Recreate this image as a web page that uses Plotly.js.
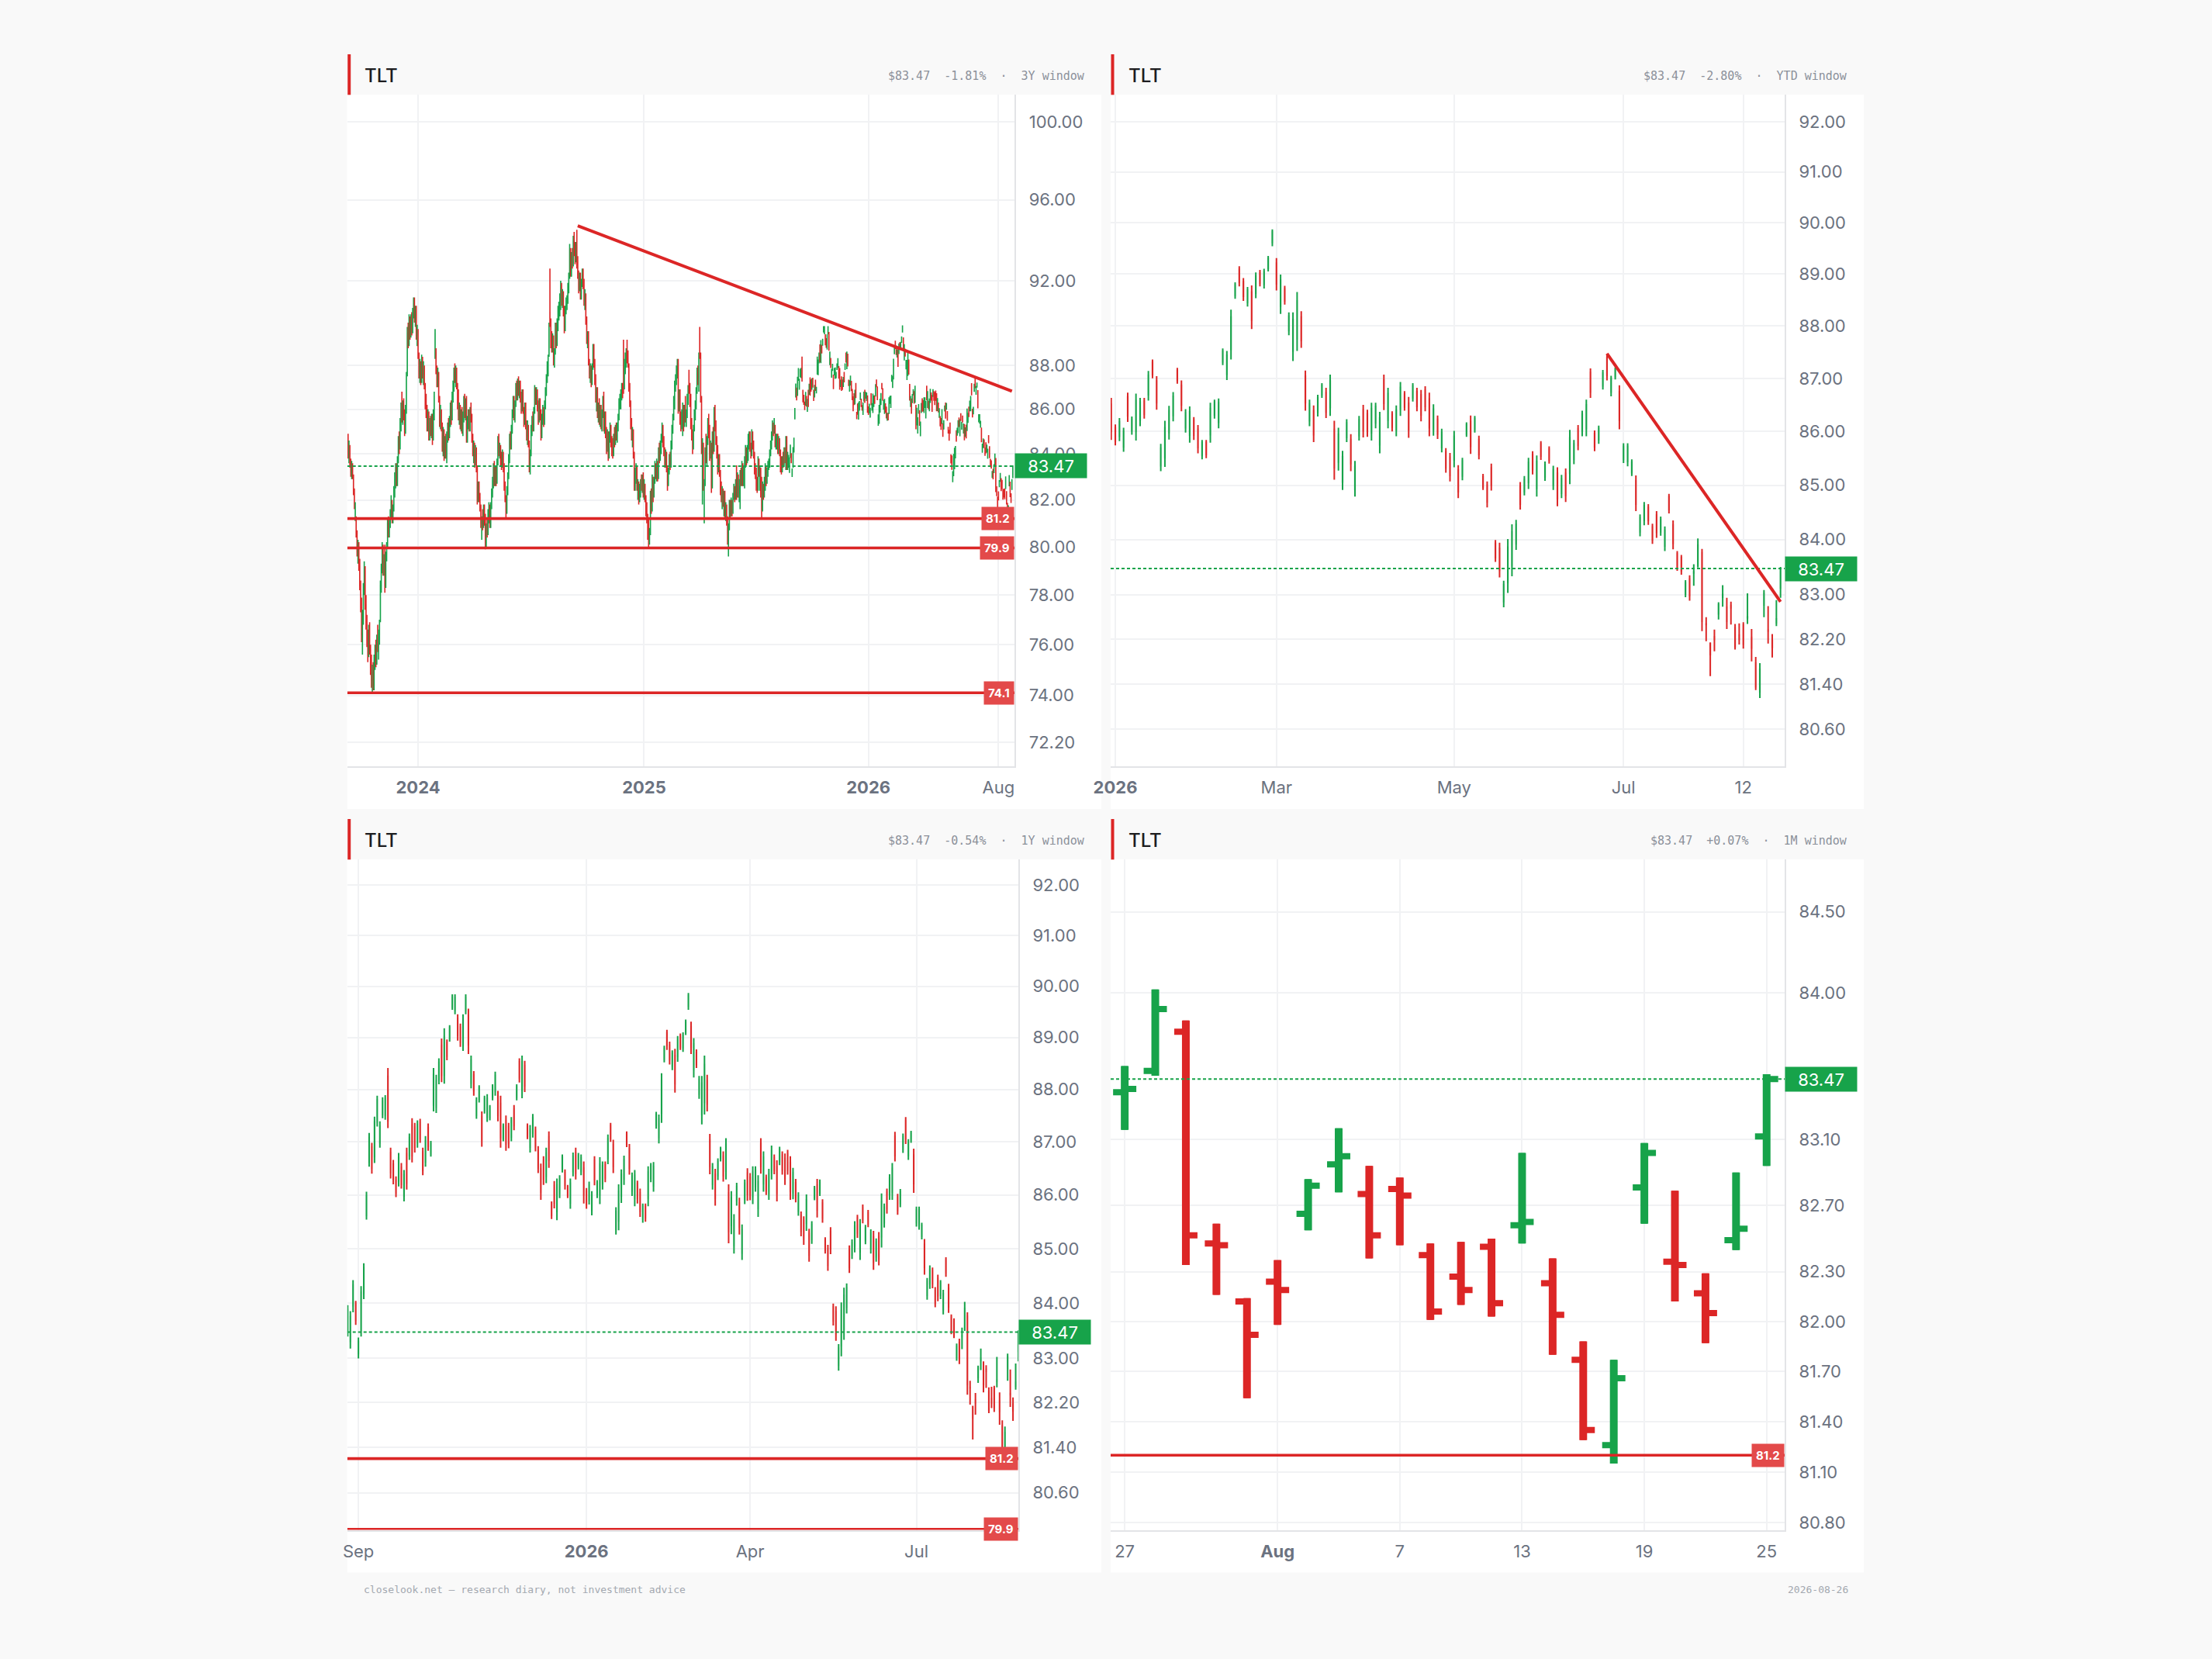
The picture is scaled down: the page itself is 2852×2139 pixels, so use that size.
<!DOCTYPE html>
<html>
<head>
<meta charset="utf-8">
<script src="https://cdn.plot.ly/plotly-3.0.1.min.js"></script>
<style>
  html, body { margin: 0; padding: 0; background: #f9f9f9; }
  #chart { width: 2852px; height: 2139px; }
</style>
</head>
<body>
<div id="chart"></div>
<script>
// ---------------- DATA ----------------
const ticker = 'TLT';
const lastPrice = 83.47;
const lastDate = '2026-08-25';
const footerDate = '2026-08-26';
const footerNote = 'closelook.net \u2014 research diary, not investment advice';

// US market holidays (trading calendar categories)
const holidays = [
  '2023-09-04','2023-11-23','2023-12-25',
  '2024-01-01','2024-01-15','2024-02-19','2024-03-29','2024-05-27','2024-06-19','2024-07-04','2024-09-02','2024-11-28','2024-12-25',
  '2025-01-01','2025-01-09','2025-01-20','2025-02-17','2025-04-18','2025-05-26','2025-06-19','2025-07-04','2025-09-01','2025-11-27','2025-12-25',
  '2026-01-01','2026-01-19','2026-02-16','2026-04-03','2026-05-25','2026-06-19','2026-07-03'
];

// Daily bars, Sep 2023 -> Aug 25 2025
const oldOpen = [
84.7,83.9,84.3,83.6,83.2,83.4,82.9,82.3,81.4,81.2,
80.6,79.9,80.0,79.2,78.4,77.5,76.3,77.0,78.3,79.0,
77.6,76.8,76.2,75.7,76.5,75.8,75.0,74.6,74.9,74.4,
75.4,75.8,75.3,76.3,75.9,76.4,77.0,78.4,79.1,79.9,
79.0,79.6,78.5,79.7,80.1,81.0,80.6,81.0,81.5,81.9,
81.3,81.8,82.4,82.9,83.4,82.8,83.8,84.6,84.4,85.4,
86.0,85.6,86.2,85.8,85.0,86.0,87.6,89.5,89.0,90.2,
89.5,90.1,89.7,90.5,90.9,90.2,90.6,89.4,89.6,88.5,
87.6,87.9,87.3,88.3,87.6,87.9,87.1,86.2,85.8,85.3,
85.8,84.9,85.4,85.0,85.6,84.7,85.8,88.4,88.6,87.8,
87.3,87.6,86.5,85.4,85.9,85.3,84.3,85.0,83.9,84.6,
84.0,84.8,85.2,84.9,85.5,86.1,85.6,86.6,87.0,87.7,
87.4,87.8,87.1,86.3,85.7,86.1,85.3,85.8,85.1,85.7,
86.4,85.8,86.3,84.7,85.5,85.8,85.2,85.9,85.7,84.7,
84.1,84.4,83.6,84.2,83.4,82.0,82.6,82.1,81.7,81.0,
81.1,80.9,81.6,81.1,80.2,80.8,80.6,81.4,81.7,81.0,
81.7,82.3,82.8,83.4,82.9,83.3,82.8,83.6,84.6,84.1,
84.3,83.7,83.5,84.0,83.4,82.6,82.1,81.5,82.4,83.0,
83.8,84.7,84.4,85.1,85.8,86.4,85.7,86.2,87.0,86.6,
87.2,86.8,87.1,86.5,86.0,86.7,86.0,85.4,86.1,85.3,
84.8,85.2,84.5,83.5,84.0,85.1,85.5,85.2,85.9,86.9,
86.4,86.8,86.1,85.5,86.3,85.7,84.9,85.6,86.0,85.4,
86.2,86.8,87.4,88.0,88.6,90.5,90.0,89.0,88.9,89.3,
88.3,88.6,89.7,89.0,90.0,90.6,90.8,91.2,91.8,91.0,
91.4,90.6,89.8,90.6,91.0,91.1,91.7,92.2,93.5,92.5,
93.2,92.9,94.0,93.5,93.0,93.7,92.9,92.3,91.6,92.2,
91.4,91.9,92.3,91.8,91.0,91.3,90.1,89.2,89.4,88.2,
87.6,87.9,87.2,87.9,88.8,88.1,87.4,86.5,86.8,85.8,
86.1,85.5,86.0,85.3,85.8,86.4,85.2,85.7,85.0,84.3,
84.9,83.9,84.8,85.2,84.5,84.2,84.0,84.7,84.5,85.1,
84.8,85.2,85.6,86.3,86.5,86.7,87.0,87.0,87.0,88.0,
88.4,88.6,88.3,88.0,87.0,86.3,85.3,84.8,85.0,84.0,
82.6,83.2,83.4,82.6,82.7,82.0,82.5,82.7,82.6,82.9,
82.3,82.6,82.1,81.5,81.2,81.1,80.3,80.6,82.2,81.6,
82.9,82.2,82.8,83.4,83.1,83.6,83.0,84.1,83.8,84.4,
84.7,85.2,84.5,84.1,83.6,84.0,83.4,82.7,83.2,83.8,
83.5,84.4,85.1,85.6,86.4,87.1,87.4,87.8,88.1,86.0,
86.7,85.5,85.2,85.8,86.1,85.3,86.0,85.6,85.8,86.5,
87.6,87.0,86.3,85.4,84.8,84.3,85.1,85.8,86.2,86.8,
87.6,87.4,89.5,88.5,86.5,82.0,84.4,82.6,82.7,84.1,
83.8,84.6,85.4,85.0,84.0,84.4,82.6,84.7,84.2,85.8,
85.3,84.6,84.0,83.3,83.8,83.2,82.4,82.1,82.4,81.9,
82.2,81.4,81.7,81.1,80.3,80.8,81.8,81.4,81.9,81.5,
82.1,82.5,82.1,82.7,82.2,83.0,82.3,82.6,83.1,82.8,
83.5,82.8,83.3,83.7,84.2,83.7,84.2,84.7,84.9,84.3,
84.0,84.9,84.4,84.0,83.3,83.1,82.6,82.5,83.6,83.2,
83.3,82.9,81.6,82.6,82.2,82.8,83.4,82.8,83.2,83.5,
83.7,84.0,84.4,84.8,85.3,85.0,85.2,84.5,84.7,84.8,
84.2,84.5,84.1,83.4,83.3,83.8,83.6,84.1,83.8,84.6,
83.6];
const oldHigh = [
84.9,84.6,84.4,83.8,83.7,83.6,83.1,82.5,81.9,81.3,
80.7,80.3,80.2,79.5,78.6,77.9,77.4,78.5,79.4,79.2,
78.0,77.2,76.6,76.8,76.9,76.0,75.6,75.2,75.3,75.6,
76.0,76.2,76.4,76.8,76.6,77.0,78.6,79.3,80.2,80.1,
79.7,80.1,79.8,80.2,81.2,81.3,81.2,81.6,82.2,82.0,
81.8,82.6,83.2,83.6,83.6,83.9,84.8,85.0,85.6,86.3,
86.8,86.4,86.5,86.0,86.2,87.7,89.8,90.0,90.4,90.3,
90.4,90.5,90.7,91.2,91.2,90.8,90.8,89.9,89.7,88.6,
88.3,88.2,88.5,88.4,88.2,88.0,87.2,86.7,86.2,86.0,
85.9,85.6,85.7,85.8,85.8,86.0,86.8,89.7,88.8,88.0,
87.9,87.7,86.6,86.2,86.0,85.4,85.2,85.1,84.8,84.9,
85.0,85.4,85.6,85.7,86.3,86.4,86.8,87.3,87.9,88.1,
88.0,87.9,87.2,86.9,86.3,86.2,86.0,86.1,85.9,86.6,
86.7,86.5,86.6,85.7,86.0,86.0,86.1,86.3,85.8,84.9,
84.6,84.5,84.4,84.3,83.5,82.8,82.8,82.3,81.8,81.3,
81.6,81.8,81.8,81.4,81.0,81.2,81.6,81.9,81.8,81.9,
82.5,83.0,83.6,83.7,83.5,83.5,83.8,84.8,84.9,84.5,
84.4,84.1,84.2,84.1,83.6,82.8,82.2,82.6,83.2,84.0,
84.9,85.0,85.3,86.0,86.6,86.6,86.4,87.2,87.3,87.4,
87.5,87.3,87.3,86.8,86.9,86.9,86.1,86.3,86.3,85.5,
85.5,85.3,84.6,84.2,85.3,85.7,85.9,86.1,87.1,87.0,
87.0,86.9,86.4,86.5,86.5,86.0,85.8,86.2,86.1,86.4,
87.0,87.6,88.2,88.5,90.0,92.6,90.2,89.6,89.5,89.4,
88.8,90.0,90.0,90.2,90.8,91.0,91.4,92.0,91.9,91.6,
91.5,90.8,90.8,91.2,91.3,91.9,92.4,93.8,93.6,93.4,
93.6,94.2,94.4,93.9,93.9,94.5,93.2,92.5,92.4,92.4,
92.1,92.6,92.6,92.1,91.6,91.4,90.3,89.6,89.6,88.3,
88.1,88.0,88.1,89.0,89.0,88.3,87.6,87.0,87.0,86.3,
86.5,86.2,86.2,86.0,86.6,86.8,85.9,85.9,85.2,85.1,
85.0,85.0,85.4,85.3,84.8,84.7,84.9,85.2,85.3,85.4,
85.4,85.8,86.5,86.7,86.9,87.2,87.2,89.2,88.3,88.6,
88.8,89.2,88.7,88.1,87.2,86.4,85.6,85.2,85.1,84.1,
83.4,83.6,83.5,82.9,82.8,82.7,82.9,83.1,83.1,83.2,
82.9,82.7,82.2,81.9,81.4,81.2,80.8,82.4,82.5,83.1,
83.0,83.0,83.7,83.6,83.8,83.7,84.3,84.5,84.6,84.9,
85.4,85.3,84.8,84.3,84.2,84.1,83.5,83.4,84.0,84.1,
84.6,85.3,85.8,86.6,87.3,87.6,88.0,88.3,88.3,86.9,
86.9,85.9,86.0,86.3,86.2,86.2,86.6,86.0,86.7,87.1,
87.8,87.2,86.7,85.6,85.1,85.3,86.0,86.4,87.0,87.9,
88.0,88.6,89.8,88.6,86.6,84.7,84.5,82.9,84.3,84.9,
84.8,85.6,85.8,85.3,84.6,84.5,85.0,85.2,86.1,86.2,
85.5,84.8,84.4,84.0,84.0,83.3,82.8,82.6,82.5,82.4,
82.4,81.9,81.8,81.3,81.0,82.0,82.0,82.1,82.0,82.3,
82.7,82.6,82.9,83.5,83.2,83.1,82.9,83.3,83.4,83.7,
83.6,83.5,83.9,84.4,84.3,84.4,84.9,85.0,85.0,84.5,
85.1,85.0,84.6,84.1,83.6,83.4,83.0,83.9,83.8,83.5,
83.4,83.0,82.8,82.7,83.0,83.6,83.5,83.4,83.7,83.8,
84.2,84.6,85.0,85.5,85.4,85.6,85.3,84.9,84.9,84.9,
84.8,84.7,84.2,83.9,83.9,84.1,84.3,84.3,84.8,84.8,
84.1];
const oldLow = [
83.8,83.6,83.4,83.0,82.9,82.9,82.2,81.6,81.1,80.4,
79.6,79.3,79.0,78.2,77.3,76.1,75.6,76.8,78.0,77.4,
76.6,75.9,75.3,75.5,75.6,74.8,74.3,74.1,74.2,74.2,
75.0,75.1,75.2,75.7,75.4,76.0,76.9,78.1,78.9,78.8,
78.8,78.1,78.3,79.4,80.0,80.4,80.4,80.8,81.2,81.0,
81.0,81.5,82.1,82.5,82.6,82.6,83.6,84.0,84.2,85.0,
85.4,85.3,85.5,84.8,84.9,85.8,87.5,88.8,88.9,89.2,
89.3,89.4,89.5,90.2,90.0,89.8,89.2,88.9,88.3,87.4,
87.2,87.1,87.2,87.4,87.1,86.9,86.0,85.6,85.0,85.0,
84.6,84.6,84.8,84.7,84.4,84.6,85.5,88.3,87.6,87.0,
87.0,86.3,85.2,85.1,85.0,84.1,83.9,83.7,83.8,83.8,
83.6,84.5,84.6,84.7,85.2,85.3,85.5,86.3,86.8,87.2,
87.0,86.9,86.0,85.5,85.3,85.1,85.0,84.9,84.8,85.4,
85.6,85.5,84.5,84.5,85.1,85.0,85.0,85.4,84.5,83.9,
83.6,83.4,83.5,83.2,81.8,81.9,81.9,81.5,80.8,80.3,
80.7,80.8,80.9,79.9,80.0,80.4,80.5,81.0,80.8,80.8,
81.6,82.1,82.5,82.6,82.6,82.6,82.7,83.5,83.9,83.8,
83.5,83.3,83.4,83.2,82.4,81.9,81.2,81.4,82.2,82.9,
83.6,84.2,84.2,84.9,85.6,85.5,85.4,86.1,86.4,86.4,
86.6,86.5,86.3,85.8,85.9,85.8,85.2,85.3,85.1,84.6,
84.4,84.3,83.2,83.1,83.9,84.8,85.0,85.0,85.8,86.2,
86.2,85.9,85.3,85.4,85.5,84.6,84.7,85.3,85.2,85.3,
86.0,86.6,87.2,87.5,88.4,89.8,88.8,88.6,88.6,88.0,
87.9,88.5,88.8,88.9,89.6,90.1,90.3,90.6,90.8,90.7,
90.3,89.5,89.6,90.4,90.6,90.9,91.4,92.1,92.2,92.2,
92.6,92.7,93.2,92.8,92.9,92.6,92.1,91.4,91.5,91.1,
91.1,91.7,91.6,90.8,90.6,89.9,89.0,88.8,88.0,87.4,
87.2,87.0,87.1,87.8,87.9,87.1,86.3,85.9,85.6,85.4,
85.3,85.2,85.1,85.0,85.6,85.0,84.9,84.7,84.0,84.1,
83.7,83.8,84.5,84.3,83.9,83.8,83.9,84.3,84.4,84.6,
84.5,85.0,85.5,86.0,86.0,86.4,86.5,86.7,86.9,87.6,
87.9,88.1,87.9,86.8,86.1,85.1,84.6,84.3,83.8,82.4,
82.4,82.7,82.4,82.0,81.8,81.9,82.1,82.4,82.3,82.1,
82.0,81.9,81.3,81.0,80.3,80.0,80.1,80.5,81.4,81.5,
81.9,82.1,82.7,82.9,82.8,82.8,82.9,83.6,83.7,84.0,
84.5,84.3,83.9,83.4,83.4,83.2,82.4,82.6,83.1,83.3,
83.4,84.2,84.9,85.5,86.0,86.8,87.1,87.4,85.8,85.9,
85.3,85.0,85.1,84.8,85.0,85.2,85.4,85.2,85.6,86.2,
86.7,86.1,85.1,84.6,84.0,84.2,85.0,85.5,86.0,86.7,
87.1,86.8,88.3,86.3,84.0,81.8,82.4,81.0,82.6,83.6,
83.5,84.4,84.7,83.7,83.8,82.3,82.5,84.0,84.1,85.0,
84.4,83.8,83.1,83.2,83.0,82.2,81.9,81.6,81.7,81.3,
81.2,81.1,80.9,80.1,79.6,80.7,81.2,81.3,81.3,81.4,
82.0,81.9,82.0,82.0,82.1,82.1,81.9,81.6,82.6,82.6,
82.6,82.6,82.5,83.4,83.5,83.6,83.7,84.2,84.1,83.8,
83.9,84.2,83.8,83.1,82.9,82.4,82.3,82.4,83.0,82.4,
82.1,81.2,81.5,82.0,82.1,82.4,82.6,82.7,83.0,83.3,
83.4,83.9,84.2,84.6,84.8,84.9,84.3,84.2,84.2,84.0,
84.0,83.9,83.2,83.1,83.2,83.4,83.5,83.6,83.3,83.3,
83.3];
const oldClose = [
84.0,84.4,83.6,83.2,83.5,83.0,82.4,81.8,81.7,80.6,
79.8,80.1,79.2,78.4,77.5,76.4,77.1,78.2,79.1,77.6,
76.9,76.2,75.6,76.5,75.8,75.1,74.6,74.9,74.4,75.4,
75.8,75.3,76.2,75.9,76.4,76.8,78.4,79.1,79.9,79.0,
79.5,78.4,79.6,80.0,81.0,80.6,81.0,81.5,81.9,81.3,
81.7,82.4,82.9,83.4,82.8,83.7,84.6,84.3,85.4,86.0,
85.6,86.2,85.8,85.0,86.0,87.5,89.5,89.0,90.2,89.5,
90.1,89.7,90.5,90.9,90.2,90.6,89.4,89.7,88.5,87.6,
87.9,87.3,88.3,87.6,87.9,87.1,86.2,85.8,85.3,85.8,
84.9,85.4,85.0,85.6,84.7,85.8,86.6,89.5,87.8,87.3,
87.6,86.5,85.4,85.9,85.3,84.3,85.0,83.9,84.6,84.0,
84.8,85.2,84.9,85.5,86.1,85.6,86.6,87.0,87.7,87.4,
87.8,87.1,86.3,85.7,86.1,85.3,85.8,85.1,85.7,86.4,
85.8,86.3,84.7,85.5,85.8,85.2,85.9,85.7,84.7,84.1,
84.4,83.6,84.2,83.4,82.0,82.6,82.1,81.7,81.0,81.1,
80.9,81.6,81.1,80.2,80.8,80.6,81.4,81.7,81.0,81.7,
82.3,82.8,83.4,82.9,83.3,82.8,83.6,84.6,84.1,84.3,
83.7,83.5,84.0,83.4,82.6,82.1,81.5,82.4,83.0,83.8,
84.7,84.4,85.1,85.8,86.4,85.7,86.2,87.0,86.6,87.2,
86.8,87.1,86.5,86.0,86.7,86.0,85.4,86.1,85.3,84.8,
85.2,84.5,83.5,84.0,85.1,85.5,85.2,85.9,86.9,86.4,
86.8,86.1,85.5,86.3,85.7,84.9,85.6,86.0,85.4,86.2,
86.8,87.4,88.0,88.3,89.8,90.0,89.0,88.9,89.3,88.3,
88.6,89.7,89.0,90.0,90.6,90.8,91.2,91.8,91.0,91.4,
90.6,89.8,90.6,91.0,91.1,91.7,92.2,93.5,92.5,93.2,
92.9,94.0,93.5,93.0,93.7,92.9,92.3,91.6,92.2,91.4,
91.9,92.3,91.8,91.0,91.3,90.1,89.2,89.4,88.2,87.6,
87.9,87.2,87.9,88.8,88.1,87.4,86.5,86.8,85.8,86.1,
85.5,86.0,85.3,85.8,86.4,85.2,85.7,85.0,84.3,84.9,
83.9,84.8,85.2,84.5,84.2,84.0,84.7,84.5,85.1,84.8,
85.2,85.6,86.3,86.5,86.7,87.0,86.8,86.9,88.0,88.4,
88.6,88.3,88.0,87.0,86.3,85.3,84.8,85.0,84.0,82.6,
83.2,83.4,82.6,82.7,82.0,82.5,82.7,82.6,82.9,82.3,
82.6,82.1,81.5,81.2,81.1,80.3,80.6,82.2,81.6,82.9,
82.2,82.8,83.4,83.1,83.6,83.0,84.1,83.8,84.4,84.7,
85.2,84.5,84.1,83.6,84.0,83.4,82.7,83.2,83.8,83.5,
84.4,85.1,85.6,86.4,87.1,87.4,87.8,88.1,86.0,86.7,
85.5,85.2,85.8,86.1,85.3,86.0,85.6,85.8,86.5,86.9,
87.0,86.3,85.4,84.8,84.3,85.1,85.8,86.2,86.8,87.6,
87.4,88.4,88.5,86.5,84.2,84.4,82.6,82.7,84.1,83.8,
84.6,85.4,85.0,84.0,84.4,82.6,84.7,84.2,85.8,85.3,
84.6,84.0,83.3,83.8,83.2,82.4,82.1,82.4,81.9,82.2,
81.4,81.7,81.1,80.3,80.8,81.8,81.4,81.9,81.5,82.1,
82.5,82.1,82.7,82.2,83.0,82.3,82.6,83.1,82.8,83.5,
82.8,83.3,83.7,84.2,83.7,84.2,84.7,84.9,84.3,84.0,
84.9,84.4,84.0,83.3,83.1,82.6,82.5,83.6,83.2,83.3,
82.3,81.6,82.6,82.2,82.8,83.4,82.8,83.2,83.5,83.7,
84.0,84.4,84.8,85.3,85.0,85.2,84.5,84.7,84.8,84.2,
84.5,84.1,83.4,83.3,83.8,83.6,84.1,83.8,84.6,83.6,
84.0];

// Daily bars, Aug 26 2025 -> Aug 25 2026 (read from the 1Y, YTD and 1M panels)
const yrOpen = [
83.50,83.30,83.95,83.98,83.08,83.50,84.18,85.62,86.62,86.90,
86.72,87.38,86.98,87.52,87.50,88.25,86.80,86.58,86.28,86.26,
86.52,85.98,86.78,86.74,87.32,87.28,86.98,87.37,86.81,86.62,
87.27,86.77,87.70,87.66,88.18,88.85,88.27,88.90,88.98,89.59,
89.52,89.37,89.20,88.85,89.52,89.43,88.12,88.28,87.50,87.81,
87.48,87.60,87.47,87.46,87.85,87.96,87.88,87.73,87.07,87.40,
87.29,87.09,87.63,87.85,88.53,87.99,88.46,87.30,86.90,87.17,
87.22,86.84,86.49,86.65,86.35,87.10,85.83,86.18,85.69,86.03,
86.49,86.42,86.15,85.85,86.44,86.80,86.54,86.45,
86.51,86.07,85.91,85.71,86.65,86.01,86.00,86.21,86.57,86.69,
87.31,86.95,85.36,85.51,85.98,86.30,87.15,86.87,86.07,85.93,
86.21,86.04,85.55,85.79,85.94,86.31,86.17,87.31,87.08,87.55,
88.58,89.09,88.85,88.45,88.65,88.63,89.03,88.80,89.11,89.61,
89.21,88.38,88.71,87.91,87.52,87.75,88.17,87.04,86.20,86.39,
86.36,86.69,86.73,86.45,86.04,85.43,85.06,85.89,85.85,84.92,
85.92,86.41,86.33,85.97,86.16,85.75,86.97,86.21,86.32,86.03,
86.42,86.70,86.53,86.63,86.75,86.69,86.78,86.61,86.04,86.23,
85.70,85.62,85.52,85.47,85.28,85.17,85.95,86.19,86.04,85.85,
85.16,85.00,85.32,83.93,83.84,82.87,83.22,83.52,83.92,84.98,
84.88,85.05,85.57,84.94,85.77,85.15,85.67,85.00,85.22,84.85,
85.22,85.22,85.48,86.05,86.01,86.05,87.11,85.96,85.84,86.86,
87.40,86.74,87.03,86.75,85.48,85.44,85.23,85.08,84.14,84.35,
84.59,84.23,84.45,84.14,83.88,84.79,84.27,83.74,83.67,83.01,
83.28,83.39,83.52,83.76,82.47,82.12,82.24,82.65,82.95,82.77,
82.80,82.40,82.27,82.45,82.58,82.23,81.77,81.26,82.81,82.36,
82.17,82.49,83.12];
const yrHigh = [
83.96,83.85,84.42,84.04,83.37,84.31,84.73,86.06,87.17,86.98,
87.48,87.88,87.39,87.85,87.89,88.41,86.89,86.66,86.35,86.79,
86.60,86.47,86.89,87.16,87.45,87.36,87.41,87.44,86.89,87.11,
87.35,87.02,88.41,88.28,88.60,88.98,89.18,88.96,89.24,89.84,
89.84,89.45,89.27,89.45,89.84,89.56,88.65,88.35,87.85,88.08,
87.58,87.88,87.91,87.70,88.10,88.34,87.97,87.88,87.35,87.50,
87.36,87.47,87.70,88.10,88.60,88.65,88.55,87.35,87.32,87.53,
87.29,86.92,86.59,86.73,86.89,87.20,85.88,86.26,86.31,86.37,
86.76,86.48,86.19,86.31,86.80,86.89,86.79,86.76,
86.63,86.13,86.25,86.07,86.73,86.28,86.71,86.63,86.63,87.14,
87.36,87.04,85.77,86.20,86.48,86.74,87.20,86.96,86.42,86.47,
86.27,86.12,85.84,85.84,86.54,86.60,86.62,87.57,87.52,88.31,
88.84,89.15,88.92,88.75,88.78,89.03,89.08,89.10,89.35,89.87,
89.31,88.99,88.77,88.26,88.26,88.65,88.28,87.15,86.60,86.49,
86.69,86.91,86.82,87.07,86.20,86.07,85.64,86.23,85.95,85.45,
86.29,86.50,86.41,86.54,86.54,86.37,87.07,86.82,86.38,86.49,
86.93,86.76,86.65,86.91,86.82,86.78,86.85,86.73,86.51,86.30,
86.05,85.69,85.60,86.01,85.37,85.51,86.17,86.30,86.29,85.92,
85.21,85.07,85.40,83.99,83.94,83.25,84.01,84.28,84.36,85.06,
85.17,85.51,85.63,85.55,85.82,85.44,85.72,85.36,85.33,85.19,
85.31,86.03,85.84,86.12,86.39,86.60,87.19,86.02,86.11,87.16,
87.47,87.05,87.21,86.87,85.78,85.78,85.48,85.18,84.46,84.69,
84.65,84.29,84.52,84.42,84.24,84.84,84.35,83.79,83.72,83.26,
83.35,83.55,84.02,83.83,82.59,82.14,82.37,82.86,83.17,82.94,
82.87,82.47,82.48,82.50,83.02,82.38,81.88,81.77,83.08,82.79,
82.29,82.90,83.50];
const yrLow = [
83.39,83.17,83.83,83.60,82.99,83.39,84.07,85.54,86.53,86.40,
86.60,87.29,86.89,87.45,87.42,87.26,86.31,86.20,85.96,86.16,
86.12,85.88,86.10,86.66,86.61,86.80,86.89,86.98,86.37,86.53,
86.83,86.72,87.58,87.55,88.10,88.14,88.11,88.56,88.92,89.54,
89.45,88.94,88.82,88.74,89.45,88.68,88.02,87.88,87.44,87.75,
86.91,87.54,87.38,87.41,87.79,87.88,87.39,86.89,87.01,86.83,
86.88,87.01,87.22,87.79,88.13,87.83,87.95,87.05,86.80,87.08,
86.82,86.41,85.91,86.19,86.22,86.51,85.55,85.75,85.53,85.94,
86.42,86.10,85.94,85.74,86.35,86.29,86.48,86.37,
85.84,85.74,85.82,85.62,86.18,85.94,85.83,86.10,86.24,86.58,
87.00,86.41,85.26,85.34,85.85,86.19,86.90,86.38,85.98,85.79,
85.84,85.59,85.48,85.50,85.79,86.24,86.06,87.25,86.97,87.36,
88.52,88.76,88.48,88.37,87.94,88.53,88.76,88.72,89.05,89.54,
88.68,88.23,88.41,87.82,87.33,87.52,87.58,86.39,86.10,85.80,
86.28,86.63,86.25,86.29,85.10,85.27,84.91,85.80,85.26,84.79,
85.83,85.89,85.90,85.83,86.06,85.59,86.40,86.06,86.00,85.91,
86.29,86.39,85.88,86.56,86.38,86.19,86.38,85.91,85.92,85.86,
85.61,85.23,85.07,85.33,84.76,85.09,85.90,85.58,85.98,85.48,
84.91,84.59,84.90,83.59,83.31,82.77,83.03,83.33,83.81,84.55,
84.81,84.93,85.20,84.79,85.47,85.08,85.40,84.91,84.61,84.76,
84.69,85.02,85.39,85.65,85.91,85.91,86.63,85.63,85.77,86.79,
86.96,86.66,86.98,86.04,85.41,85.35,85.17,84.52,84.06,84.26,
84.27,83.92,84.03,84.07,83.79,84.48,83.82,83.43,83.36,82.95,
82.89,83.16,83.49,82.34,82.16,81.54,81.98,82.55,82.78,82.38,
82.46,82.01,82.10,82.03,82.47,81.80,81.29,81.15,82.59,82.12,
81.87,82.43,82.94];
const yrClose = [
83.88,83.75,84.33,83.68,83.30,84.20,84.65,85.98,87.08,86.50,
87.38,87.80,87.30,87.78,87.82,87.40,86.42,86.30,86.04,86.70,
86.20,86.38,86.22,87.08,86.74,86.90,87.33,87.06,86.46,87.02,
86.92,86.97,88.29,88.17,88.52,88.27,89.02,88.64,89.19,89.79,
89.78,89.04,88.91,89.34,89.78,88.86,88.56,87.97,87.79,88.03,
87.04,87.83,87.83,87.66,88.05,88.27,87.50,87.08,87.30,86.96,
86.97,87.40,87.31,88.05,88.22,88.53,88.07,87.11,87.24,87.46,
86.91,86.51,86.05,86.30,86.79,86.65,85.62,85.85,86.19,86.30,
86.71,86.18,85.99,86.22,86.73,86.41,86.74,86.70,
86.00,85.82,86.18,86.00,86.29,86.23,86.58,86.55,86.32,87.06,
87.07,86.54,85.69,86.07,86.39,86.66,86.96,86.50,86.35,86.37,
85.93,85.70,85.79,85.57,86.43,86.55,86.54,87.52,87.44,88.17,
88.79,88.84,88.57,88.69,88.11,88.96,88.82,89.04,89.30,89.82,
88.81,88.88,88.48,88.19,88.12,88.48,87.72,86.54,86.52,85.94,
86.63,86.87,86.36,86.95,85.32,85.95,85.53,86.16,85.40,85.35,
86.22,86.01,86.00,86.43,86.47,86.25,86.53,86.71,86.08,86.40,
86.83,86.46,86.03,86.86,86.47,86.31,86.47,86.07,86.42,85.95,
85.98,85.32,85.18,85.91,84.88,85.45,86.13,85.72,86.24,85.57,
84.97,84.69,85.00,83.67,83.44,83.18,83.86,84.14,84.28,84.65,
85.11,85.42,85.29,85.44,85.54,85.38,85.46,85.29,84.75,85.12,
84.81,85.88,85.77,85.74,86.32,86.50,86.74,85.71,86.06,87.10,
87.06,86.99,87.17,86.21,85.72,85.72,85.43,84.65,84.40,84.62,
84.35,83.99,84.13,84.37,84.17,84.55,83.93,83.50,83.43,83.21,
82.98,83.41,83.90,82.52,82.46,81.92,82.19,82.82,83.00,82.52,
82.76,82.06,82.19,82.11,82.60,82.04,81.35,81.66,83.02,82.34,
82.05,82.56,83.47];

// Horizontal support levels and their tag texts
const supportLevels = [81.20, 79.96, 74.10];
const supportTags   = ['81.2', '79.9', '74.1'];

// Trend lines (date, price)
const trend3yDates  = ['2024-09-17', '2026-08-24'];
const trend3yPrices = [94.70, 86.82];
const trendYtdDates  = ['2026-06-25', '2026-08-25'];
const trendYtdPrices = [87.47, 82.87];

// Panel windows
const windowNames   = ['3Y', 'YTD', '1Y', '1M'];
const windowChanges = ['-1.81%', '-2.80%', '-0.54%', '+0.07%'];
const windowBars    = [742, 163, 251, 22];

// Tick labels
const ticks3yDates = ['2024-01-02', '2025-01-02', '2026-01-02', '2026-08-03'];
const ticks3yText  = ['<b>2024</b>', '<b>2025</b>', '<b>2026</b>', 'Aug'];
const ticksYtdDates = ['2026-01-02', '2026-03-02', '2026-05-01', '2026-07-01', '2026-08-12'];
const ticksYtdText  = ['<b>2026</b>', 'Mar', 'May', 'Jul', '12'];
const ticks1yDates = ['2025-09-02', '2026-01-02', '2026-04-01', '2026-07-01'];
const ticks1yText  = ['Sep', '<b>2026</b>', 'Apr', 'Jul'];
const ticks1mDates = ['2026-07-27', '2026-08-03', '2026-08-07', '2026-08-13', '2026-08-19', '2026-08-25'];
const ticks1mText  = ['27', '<b>Aug</b>', '7', '13', '19', '25'];

const priceTicks3y  = [100, 96, 92, 88, 86, 84, 82, 80, 78, 76, 74, 72.2];
const priceTicksYtd = [92, 91, 90, 89, 88, 87, 86, 85, 84, 83, 82.2, 81.4, 80.6];
const priceTicks1y  = [92, 91, 90, 89, 88, 87, 86, 85, 84, 83, 82.2, 81.4, 80.6];
const priceTicks1m  = [84.5, 84.0, 83.1, 82.7, 82.3, 82.0, 81.7, 81.4, 81.1, 80.8];

// ---------------- BUILD ----------------
const W = 2852, H = 2139;
const fx = px => px / W;
const fy = px => 1 - px / H;
const GREEN = '#17a34a', RED = '#dc2626', TAG_RED = '#e34a4a';
const UI = 'Inter, "Noto Sans", sans-serif';
const MONO = '"DejaVu Sans Mono", "Liberation Mono", monospace';
const NB = '\u00a0';

function tradingDays(endISO, n, hol) {
  const set = new Set(hol);
  const out = [];
  const d = new Date(endISO + 'T00:00:00Z');
  while (out.length < n) {
    const dow = d.getUTCDay();
    const iso = d.toISOString().slice(0, 10);
    if (dow !== 0 && dow !== 6 && !set.has(iso)) out.push(iso);
    d.setUTCDate(d.getUTCDate() - 1);
  }
  return out.reverse();
}

const openAll = oldOpen.concat(yrOpen);
const highAll = oldHigh.concat(yrHigh);
const lowAll = oldLow.concat(yrLow);
const closeAll = oldClose.concat(yrClose);
const N = openAll.length;
const dates = tradingDays(lastDate, N, holidays);
const tail = (a, n) => a.slice(a.length - n);

const panels = [
  { ax: ['x', 'y'], n: windowBars[0], dom: { x: [447.7, 1308.3], y: [122.3, 987.5] }, xr: [-0.95, 743.1], yr: [71.31, 101.44],
    pt: priceTicks3y, td: ticks3yDates, tt: ticks3yText, kind: 'candle', lw: 1.6, sup: [0, 1, 2], trend: [trend3yDates, trend3yPrices],
    box: { x: [447.7, 1420], y: [122.3, 1043] }, head: 70 },
  { ax: ['x2', 'y2'], n: windowBars[1], dom: { x: [1432, 2301], y: [122.3, 987.5] }, xr: [-0.13, 163.0], yr: [79.96, 92.54],
    pt: priceTicksYtd, td: ticksYtdDates, tt: ticksYtdText, kind: 'candle', lw: 2, sup: [], trend: [trendYtdDates, trendYtdPrices],
    box: { x: [1432, 2403], y: [122.3, 1043] }, head: 70 },
  { ax: ['x3', 'y3'], n: windowBars[2], dom: { x: [447.7, 1313], y: [1108.1, 1972.5] }, xr: [-0.17, 250.0], yr: [79.95, 92.52],
    pt: priceTicks1y, td: ticks1yDates, tt: ticks1yText, kind: 'candle', lw: 2, sup: [0, 1], trend: null,
    box: { x: [447.7, 1420], y: [1108.1, 2027.5] }, head: 1056 },
  { ax: ['x4', 'y4'], n: windowBars[3], dom: { x: [1432, 2301], y: [1108.1, 1972.5] }, xr: [-0.46, 21.59], yr: [80.757, 84.825],
    pt: priceTicks1m, td: ticks1mDates, tt: ticks1mText, kind: 'ohlc', lw: 10, sup: [0], trend: null,
    box: { x: [1432, 2403], y: [1108.1, 2027.5] }, head: 1056 }
];

const traces = [];
const shapes = [];
const annotations = [];
const layout = {
  width: W, height: H,
  margin: { l: 0, r: 0, t: 0, b: 0 },
  paper_bgcolor: '#f9f9f9',
  plot_bgcolor: '#ffffff',
  showlegend: false,
  boxgap: 0.95,
  font: { family: UI, color: '#6b7280' }
};

panels.forEach((p, k) => {
  const [xa, ya] = p.ax;
  const start = N - p.n;
  const xs = Array.from({ length: p.n }, (_, i) => i);
  const o = tail(openAll, p.n), h = tail(highAll, p.n), l = tail(lowAll, p.n), c = tail(closeAll, p.n);
  const idx = d => dates.indexOf(d) - start;

  if (p.kind === 'candle') {
    traces.push({
      type: 'candlestick', x: xs, open: o, high: h, low: l, close: c, xaxis: xa, yaxis: ya,
      whiskerwidth: 0, hoverinfo: 'skip',
      increasing: { line: { color: GREEN, width: p.lw }, fillcolor: GREEN },
      decreasing: { line: { color: RED, width: p.lw }, fillcolor: RED }
    });
  } else {
    // thick high-low stems
    traces.push({
      type: 'ohlc', x: xs, open: o, high: h, low: l, close: c, xaxis: xa, yaxis: ya,
      tickwidth: 0, hoverinfo: 'skip',
      increasing: { line: { color: GREEN, width: 10 } },
      decreasing: { line: { color: RED, width: 10 } }
    });
    // open / close ticks
    traces.push({
      type: 'ohlc', x: xs, open: o, high: h, low: l, close: c, xaxis: xa, yaxis: ya,
      tickwidth: 0.38, hoverinfo: 'skip',
      increasing: { line: { color: GREEN, width: 8 } },
      decreasing: { line: { color: RED, width: 8 } }
    });
  }

  // supports
  p.sup.forEach(si => {
    traces.push({ type: 'scatter', mode: 'lines', x: [p.xr[0], p.xr[1]], y: [supportLevels[si], supportLevels[si]],
      xaxis: xa, yaxis: ya, hoverinfo: 'skip', line: { color: RED, width: 3.6 } });
    annotations.push({ xref: xa + ' domain', yref: ya, x: 1, y: Math.log10(supportLevels[si]),
      xanchor: 'right', yanchor: 'middle', showarrow: false, text: supportTags[si],
      font: { family: UI, size: 15, color: '#ffffff', weight: 700 }, bgcolor: TAG_RED, borderpad: 5 });
  });

  // last price dotted line
  traces.push({ type: 'scatter', mode: 'lines', x: [p.xr[0], p.xr[1]], y: [lastPrice, lastPrice],
    xaxis: xa, yaxis: ya, hoverinfo: 'skip', line: { color: GREEN, width: 2, dash: '4px,3px' } });

  // trend line
  if (p.trend) {
    traces.push({ type: 'scatter', mode: 'lines', x: p.trend[0].map(idx), y: p.trend[1],
      xaxis: xa, yaxis: ya, hoverinfo: 'skip', line: { color: RED, width: 4 } });
  }

  const sfx = k === 0 ? '' : String(k + 1);
  layout['xaxis' + sfx] = {
    domain: [fx(p.dom.x[0]), fx(p.dom.x[1])], anchor: ya, type: 'linear', range: p.xr,
    rangeslider: { visible: false },
    tickmode: 'array', tickvals: p.td.map(idx), ticktext: p.tt,
    showgrid: true, gridcolor: '#f1f2f4', gridwidth: 2, zeroline: false,
    showline: true, linecolor: '#e3e4e7', linewidth: 2, ticks: '',
    tickfont: { family: UI, size: 22, color: '#6b7280' }, ticklabelstandoff: 7,
    fixedrange: true, automargin: false
  };
  layout['yaxis' + sfx] = {
    domain: [fy(p.dom.y[1]), fy(p.dom.y[0])], anchor: xa, side: 'right', type: 'log',
    range: [Math.log10(p.yr[0]), Math.log10(p.yr[1])],
    tickmode: 'array', tickvals: p.pt, ticktext: p.pt.map(v => v.toFixed(2)),
    showgrid: true, gridcolor: '#f1f2f4', gridwidth: 2, zeroline: false,
    showline: true, linecolor: '#e3e4e7', linewidth: 2, ticks: '',
    tickfont: { family: UI, size: 22, color: '#6b7280' }, ticklabelstandoff: 12,
    fixedrange: true, automargin: false
  };

  // last price tag
  annotations.push({ xref: xa + ' domain', yref: ya, x: 1, y: Math.log10(lastPrice),
    xanchor: 'left', yanchor: 'middle', showarrow: false, text: lastPrice.toFixed(2),
    font: { family: UI, size: 22, color: '#ffffff' }, bgcolor: GREEN, width: 86, height: 25, borderpad: 3, align: 'center' });

  // panel background + header accent
  shapes.push({ type: 'rect', xref: 'paper', yref: 'paper', layer: 'below',
    x0: fx(p.box.x[0]), x1: fx(p.box.x[1]), y0: fy(p.box.y[1]), y1: fy(p.box.y[0]),
    fillcolor: '#ffffff', line: { width: 0 } });
  shapes.push({ type: 'rect', xref: 'paper', yref: 'paper', layer: 'above',
    x0: fx(p.box.x[0] + 0.5), x1: fx(p.box.x[0] + 4.5), y0: fy(p.head + 52.3), y1: fy(p.head),
    fillcolor: RED, line: { width: 0 } });

  // header texts
  annotations.push({ xref: 'paper', yref: 'paper', x: fx(p.box.x[0] + 20.5), y: fy(p.head + 27.2),
    xanchor: 'left', yanchor: 'middle', showarrow: false, text: ticker,
    font: { family: UI, size: 24, color: '#1d1d1f', weight: 500 } });
  annotations.push({ xref: 'paper', yref: 'paper', x: fx(p.box.x[1] - 19.5), y: fy(p.head + 28),
    xanchor: 'right', yanchor: 'middle', showarrow: false,
    text: '$' + lastPrice.toFixed(2) + NB + NB + windowChanges[k] + NB + NB + '\u00b7' + NB + NB + windowNames[k] + ' window',
    font: { family: MONO, size: 15, color: '#8b9099' } });
});

// footer
annotations.push({ xref: 'paper', yref: 'paper', x: fx(467), y: fy(2049), xanchor: 'left', yanchor: 'middle',
  showarrow: false, text: footerNote, font: { family: MONO, size: 13, color: '#a3a8b0' } });
annotations.push({ xref: 'paper', yref: 'paper', x: fx(2385), y: fy(2049), xanchor: 'right', yanchor: 'middle',
  showarrow: false, text: footerDate, font: { family: MONO, size: 13, color: '#a3a8b0' } });

layout.shapes = shapes;
layout.annotations = annotations;

Plotly.newPlot('chart', traces, layout, { staticPlot: true, displayModeBar: false });
</script>
</body>
</html>
